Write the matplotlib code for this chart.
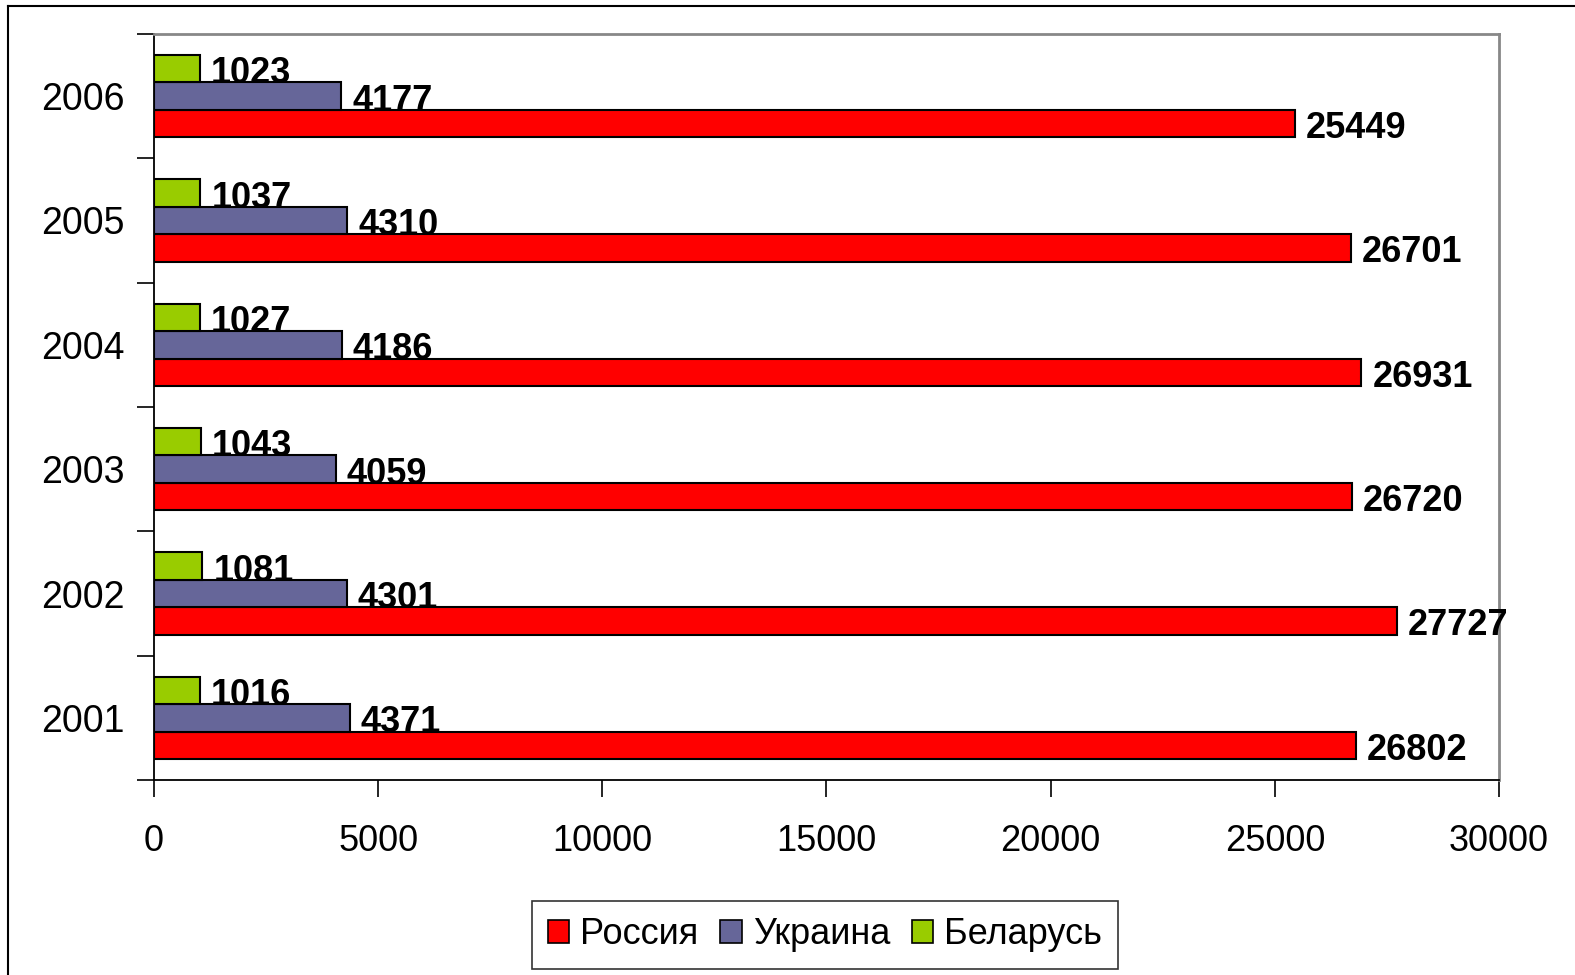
import numpy as np
import matplotlib.pyplot as plt
from matplotlib.lines import Line2D
from matplotlib.patches import Patch

years = ['2001', '2002', '2003', '2004', '2005', '2006']
russia = [26802, 27727, 26720, 26931, 26701, 25449]
ukraine = [4371, 4301, 4059, 4186, 4310, 4177]
belarus = [1016, 1081, 1043, 1027, 1037, 1023]
names = ['Россия', 'Украина', 'Беларусь']
colors = ['#ff0000', '#666699', '#99cc00']

plt.rcParams['font.family'] = ['Liberation Sans', 'DejaVu Sans']

fig = plt.figure(figsize=(15.75, 9.75), dpi=100)
ax = fig.add_axes([154/1575, 1-780/975, (1499-154)/1575, (780-34)/975])

y = np.arange(len(years))
h = 0.22
series = [russia, ukraine, belarus]
offsets = [-h, 0, h]
for vals, off, c in zip(series, offsets, colors):
    bars = ax.barh(y + off, vals, height=h, color=c, edgecolor='black', linewidth=1.5)
    for b, v in zip(bars, vals):
        ax.annotate(str(v), (v, b.get_y() + h/2), xytext=(11, -5), textcoords='offset pixels',
                    va='center', ha='left', fontsize=26, fontweight='bold')

ax.set_xlim(0, 30000)
ax.set_ylim(-0.5, 5.5)
ax.set_xticks(range(0, 30001, 5000))
ax.set_yticks(y)
ax.set_yticklabels(years)
ax.set_yticks(np.arange(-0.5, 6, 1), minor=True)
ax.tick_params(axis='y', which='major', length=0, pad=21, labelsize=27)
ax.tick_params(axis='y', which='minor', length=12, width=1.2)
ax.tick_params(axis='x', length=12, width=1.2, pad=20, labelsize=26)

for s in ['top', 'right']:
    ax.spines[s].set_color('#888888')
    ax.spines[s].set_linewidth(2)
for s in ['left', 'bottom']:
    ax.spines[s].set_linewidth(1.3)

handles = [Patch(facecolor=c, edgecolor='black', linewidth=1.2) for c in colors]
leg = fig.legend(handles, names, loc='center', bbox_to_anchor=((527+1123)/2/1575, 1-935/975),
                 ncol=3, fontsize=26, frameon=True, fancybox=False, edgecolor='black',
                 handlelength=0.6, handleheight=0.6, handletextpad=0.3, columnspacing=0.6,
                 borderpad=0.45)
leg.get_frame().set_linewidth(1.2)

fig.add_artist(Line2D([8/1575, 1], [1-6/975, 1-6/975], color='black', linewidth=1.5))
fig.add_artist(Line2D([8/1575, 8/1575], [0, 1-6/975], color='black', linewidth=1.5))

fig.savefig('out.png', dpi=100)
